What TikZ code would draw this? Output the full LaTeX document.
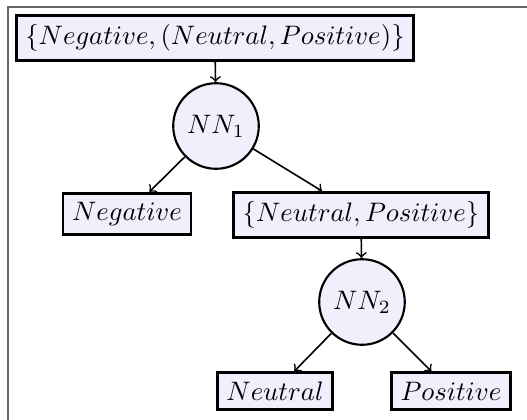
\documentclass[tikz,border=0pt]{standalone}
\usepackage{tikz}
\definecolor{nodefill}{rgb}{0.94,0.94,0.99}
\tikzset{
  setbox/.style={draw, line width=1pt, fill=nodefill, inner sep=3.4pt},
  netcircle/.style={draw, circle, line width=0.8pt, fill=nodefill, minimum size=32pt, inner sep=0pt},
  edge/.style={->, line width=0.6pt}
}
\begin{document}
\begin{tikzpicture}[x=0.374pt, y=-0.374pt]
\useasboundingbox (0,0) rectangle (527,419);
\draw[gray!80!black, line width=0.8pt] (8,7) rectangle (560,450);
\node[setbox] (top) at (215,38) {$\{Negative, (Neutral, Positive)\}$};
\node[netcircle] (nn1) at (216,126) {$NN_1$};
\node[setbox] (neg) at (127,214) {$Negative$};
\node[setbox] (np) at (361,215) {$\{Neutral, Positive\}$};
\node[netcircle] (nn2) at (362,302) {$NN_2$};
\node[setbox] (neu) at (275,391) {$Neutral$};
\node[setbox] (pos) at (451,391) {$Positive$};
\draw[edge] (top) -- (nn1);
\draw[edge] (nn1) -- (neg);
\draw[edge] (nn1) -- (np);
\draw[edge] (np) -- (nn2);
\draw[edge] (nn2) -- (neu);
\draw[edge] (nn2) -- (pos);
\end{tikzpicture}
\end{document}
